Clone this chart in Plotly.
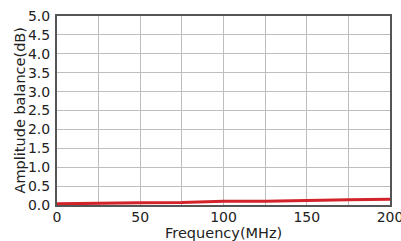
import plotly.graph_objects as go

freq = [0, 25, 50, 75, 100, 125, 150, 175, 200]
balance = [0.03, 0.05, 0.06, 0.065, 0.10, 0.10, 0.13, 0.14, 0.15]
x_ticks = [0, 50, 100, 150, 200]
y_ticks = [0.0, 0.5, 1.0, 1.5, 2.0, 2.5, 3.0, 3.5, 4.0, 4.5, 5.0]

fig = go.Figure()
fig.add_trace(go.Scatter(x=freq, y=balance, mode="lines",
                         line=dict(color="#d2232a", width=3)))

font = dict(family="DejaVu Sans, sans-serif", size=14, color="#222")
title_font = dict(family="DejaVu Sans, sans-serif", size=14.5, color="#222")
fig.update_layout(
    width=401, height=241,
    margin=dict(l=57, r=11, t=16, b=36),
    paper_bgcolor="white", plot_bgcolor="white",
    showlegend=False, font=font,
    xaxis=dict(range=[0, 200], tickvals=x_ticks, ticktext=[str(v) for v in x_ticks],
               showgrid=True, gridcolor="#bdbdbd", gridwidth=1,
               showline=True, linecolor="#555", linewidth=2, mirror=True,
               ticks="", zeroline=False, automargin=False, ticklabelstandoff=-2,
               ticklabeloverflow="allow",
               minor=dict(tickvals=[25, 75, 125, 175], showgrid=True,
                          gridcolor="#bdbdbd", gridwidth=1)),
    yaxis=dict(range=[0, 5], tickvals=y_ticks, ticktext=[f"{v:.1f}" for v in y_ticks],
               showgrid=True, gridcolor="#bdbdbd", gridwidth=1,
               showline=True, linecolor="#555", linewidth=2, mirror=True,
               ticks="", zeroline=False, automargin=False, ticklabelstandoff=2),
    annotations=[
        dict(text="Frequency(MHz)", x=0.5, xref="paper", y=0, yref="paper",
             yanchor="middle", yshift=-28, showarrow=False, font=title_font),
        dict(text="Amplitude balance(dB)", x=0, xref="paper", y=0.5, yref="paper",
             xanchor="center", xshift=-38, textangle=-90, showarrow=False, font=title_font),
    ],
)
fig.write_html("out.html", config={"displayModeBar": False},
               post_script="document.body.style.margin='0';")
